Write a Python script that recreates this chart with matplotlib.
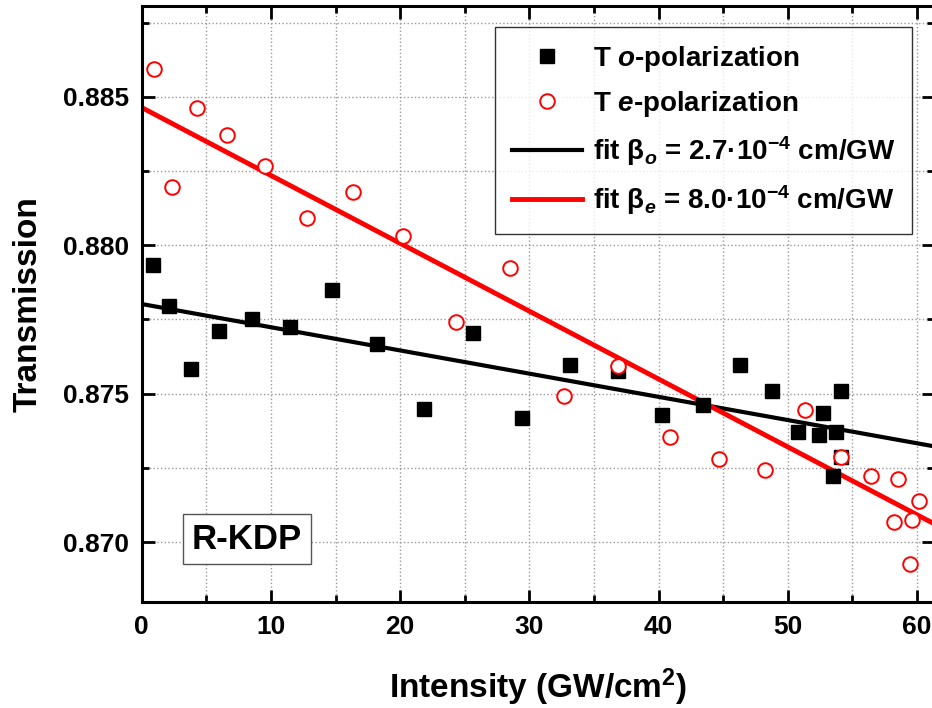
import numpy as np
import matplotlib
matplotlib.use("Agg")
import matplotlib.pyplot as plt
from matplotlib.ticker import MultipleLocator

# -----------------------------
# Data
# -----------------------------
I_o = [0.90, 2.12, 3.82, 6.0, 8.56, 11.5, 14.75, 18.23, 21.86, 25.65, 29.44, 33.13,
       36.82, 40.25, 43.4, 46.28, 48.75, 50.82, 52.41, 52.7, 53.71, 54.12, 54.15, 53.5]
T_o = [0.87933, 0.87795, 0.87584, 0.87712, 0.87752, 0.87726, 0.87850, 0.87668,
       0.87447, 0.87705, 0.87418, 0.87595, 0.87575, 0.87427, 0.87463, 0.87595,
       0.87510, 0.87371, 0.87362, 0.87436, 0.87371, 0.87510, 0.87287, 0.87224]

I_e = [0.98, 2.33, 4.26, 6.63, 9.54, 12.77, 16.37, 20.24, 24.29, 28.49, 32.69, 36.82,
       40.87, 44.68, 48.21, 51.36, 54.11, 56.41, 58.52, 60.15, 58.21, 59.58, 59.43]
T_e = [0.88593, 0.88197, 0.88464, 0.88373, 0.88266, 0.88093, 0.88179, 0.88032,
       0.87740, 0.87925, 0.87491, 0.87592, 0.87354, 0.87280, 0.87242, 0.87446,
       0.87287, 0.87223, 0.87213, 0.87139, 0.87066, 0.87075, 0.86926]

# linear fits: T = T0 + slope * I
FIT_O = (0.87802, -7.82e-5)
FIT_E = (0.88464, -2.287e-4)

XLIM = (0, 61.3)
YLIM = (0.86798, 0.88806)

# -----------------------------
# Style
# -----------------------------
plt.rcParams['font.family'] = ['Liberation Sans', 'DejaVu Sans']
plt.rcParams['font.weight'] = 'bold'
plt.rcParams['mathtext.fontset'] = 'custom'
plt.rcParams['mathtext.rm'] = 'Liberation Sans:bold'
plt.rcParams['mathtext.it'] = 'Liberation Sans:bold:italic'
plt.rcParams['mathtext.bf'] = 'Liberation Sans:bold'

fig = plt.figure(figsize=(9.32, 7.08), dpi=100)
ax = fig.add_axes([0.152, 0.1497, 0.850, 0.8418])

xs = np.array(XLIM)
ax.plot(I_o, T_o, 's', color='black', markersize=10, label='T $o$-polarization', zorder=3)
ax.plot(I_e, T_e, 'o', mfc='white', mec='red', mew=1.4, markersize=10.5,
        label='T $e$-polarization', zorder=4)
ax.plot(xs, FIT_O[0] + FIT_O[1] * xs, color='black', lw=3,
        label='fit β$_{o}$ = 2.7·10$^{-4}$ cm/GW', zorder=2)
ax.plot(xs, FIT_E[0] + FIT_E[1] * xs, color='red', lw=3.5,
        label='fit β$_{e}$ = 8.0·10$^{-4}$ cm/GW', zorder=2)

ax.set_xlim(*XLIM)
ax.set_ylim(*YLIM)
ax.xaxis.set_major_locator(MultipleLocator(10))
ax.xaxis.set_minor_locator(MultipleLocator(5))
ax.yaxis.set_major_locator(MultipleLocator(0.005))
ax.yaxis.set_minor_locator(MultipleLocator(0.0025))
ax.yaxis.set_major_formatter(plt.FormatStrFormatter('%.3f'))

ax.grid(True, which='both', color='#999999', linestyle=':', linewidth=1)
ax.set_axisbelow(True)

ax.tick_params(which='both', direction='in', top=True, right=True, width=2)
ax.tick_params(which='major', length=9, labelsize=19)
ax.tick_params(axis='x', which='major', pad=9)
ax.tick_params(axis='y', which='major', pad=9)
ax.tick_params(which='minor', length=5)
for s in ax.spines.values():
    s.set_linewidth(2.2)

ax.set_xlabel('Intensity (GW/cm$^{2}$)', fontsize=24, fontweight='bold', labelpad=20)
ax.set_ylabel('Transmission', fontsize=24, fontweight='bold', labelpad=14)

leg = ax.legend(loc='upper right', bbox_to_anchor=(0.9722, 0.9648), fontsize=20,
                frameon=True, fancybox=False, edgecolor='black', handlelength=2.5,
                handletextpad=0.4, borderpad=0.6, labelspacing=0.55, borderaxespad=0)
leg.get_frame().set_linewidth(1)

ax.text(0.133, 0.1057, 'R-KDP', transform=ax.transAxes, fontsize=25, fontweight='bold',
        ha='center', va='center',
        bbox=dict(boxstyle='square,pad=0.25', fc='white', ec='#555555', lw=1))

fig.savefig('out.png', dpi=100)
